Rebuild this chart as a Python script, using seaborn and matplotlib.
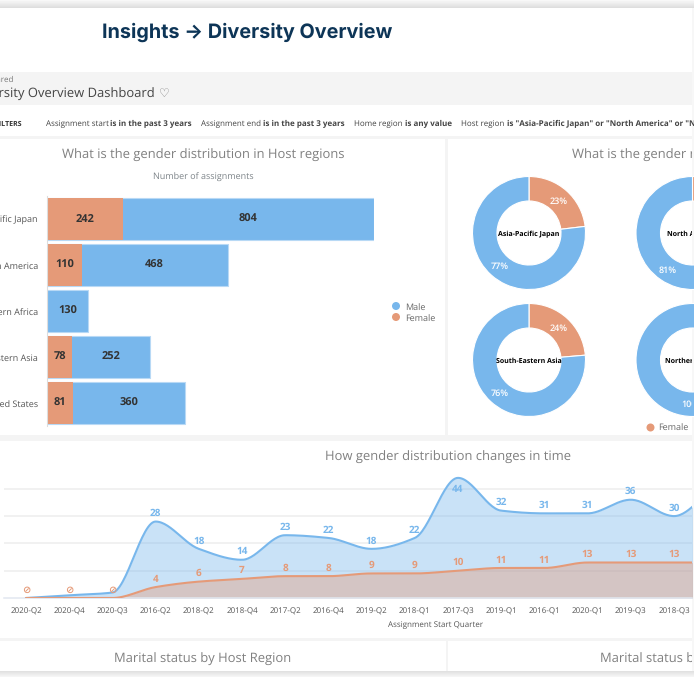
import numpy as np
import pandas as pd
import seaborn as sns
import matplotlib.pyplot as plt
from matplotlib.patches import Rectangle

# bar chart data
regions = ["Asia-Pacific Japan", "North America", "Northern Africa", "South-Eastern Asia", "United States"]
female_counts = [242, 110, 0, 78, 81]
male_counts = [804, 468, 130, 252, 360]

# donut order in the picture
donut_regions = ["Asia-Pacific Japan", "North America", "South-Eastern Asia", "Northern Africa"]

# line chart data, last value is the point past the cropped edge
quarters = ["2020-Q2", "2020-Q4", "2020-Q3", "2016-Q2", "2018-Q2", "2018-Q4", "2017-Q2", "2016-Q4",
            "2019-Q2", "2018-Q1", "2017-Q3", "2019-Q1", "2016-Q1", "2020-Q1", "2019-Q3", "2018-Q3", ""]
male_line = [0, 1, 2, 28, 18, 14, 23, 22, 18, 22, 44, 32, 31, 31, 36, 30, 42]
female_line = [0, 0, 0, 4, 6, 7, 8, 8, 9, 9, 10, 11, 11, 13, 13, 13, 13]

BLUE = "#78b7ec"
ORANGE = "#e59a78"
W, H = 694, 677
PX = 0.72  # px to pt at dpi 100

sns.set_theme(style="white")
plt.rcParams["font.family"] = ["Open Sans", "DejaVu Sans"]
plt.rcParams["text.hinting"] = "no_hinting"
plt.rcParams["text.hinting_factor"] = 1

fig = plt.figure(figsize=(W / 100, H / 100), dpi=100, facecolor="#f7f7f7")


def px_axes(x0, y0, x1, y1, **kw):
    return fig.add_axes([x0 / W, 1 - y1 / H, (x1 - x0) / W, (y1 - y0) / H], **kw)


def smooth(x, y, n=30):
    # monotone cubic through the points, only for the curved look of the line
    x, y = np.asarray(x, float), np.asarray(y, float)
    d = np.diff(y) / np.diff(x)
    m = np.zeros_like(y)
    for i in range(1, len(y) - 1):
        if d[i - 1] * d[i] > 0:
            m[i] = 2 * d[i - 1] * d[i] / (d[i - 1] + d[i])
    m[0], m[-1] = d[0], d[-1]
    xs, ys = [], []
    for i in range(len(x) - 1):
        t = np.linspace(0, 1, n)
        h = x[i + 1] - x[i]
        ys.append((2*t**3 - 3*t**2 + 1) * y[i] + (t**3 - 2*t**2 + t) * h * m[i]
                  + (-2*t**3 + 3*t**2) * y[i + 1] + (t**3 - t**2) * h * m[i + 1])
        xs.append(x[i] + t * h)
    return np.concatenate(xs), np.concatenate(ys)


# page background and cards
bg = px_axes(0, 0, W, H)
bg.set_xlim(0, W)
bg.set_ylim(H, 0)
bg.axis("off")
bg.imshow(np.linspace(0.97, 0.87, 8)[:, None], extent=(0, W, 8, 0), cmap="gray", vmin=0, vmax=1, aspect="auto")
bg.imshow(np.linspace(0.88, 0.96, 6)[:, None], extent=(0, W, 677, 671), cmap="gray", vmin=0, vmax=1, aspect="auto")
bg.set_xlim(0, W)
bg.set_ylim(H, 0)
for x, y, w, h, c in [(0, 8, 692, 663, "#f4f4f4"), (0, 8, 692, 64, "white"), (0, 105, 692, 31, "white"),
                      (0, 139, 445, 296, "white"), (448, 139, 244, 296, "white"), (0, 441, 692, 197, "white"),
                      (0, 641, 446, 30, "white"), (448, 641, 244, 30, "white")]:
    bg.add_patch(Rectangle((x, y), w, h, color=c, lw=0))

# header texts
bg.text(102, 32.5, "Insights → Diversity Overview", fontsize=19.8 * PX, fontweight="bold", color="#0d3557",
        family=["Inter", "DejaVu Sans"], va="center")
bg.text(14, 80, "Shared", fontsize=8 * PX, color="#777777", ha="right", va="center")
bg.text(155, 94.5, "Diversity Overview Dashboard", fontsize=12.7 * PX, color="#444444", ha="right", va="center")
bg.text(159, 93.5, "♡", fontsize=12 * PX, color="#777777", va="center", family=["DejaVu Sans"])
bg.text(22, 124, "FILTERS", fontsize=7.5 * PX, fontweight="bold", color="#333333", ha="right", va="center")
filter_bits = [(46, "Assignment start", "normal"), (110.5, "is in the past 3 years", "bold"),
               (201, "Assignment end", "normal"), (263, "is in the past 3 years", "bold"),
               (354, "Home region", "normal"), (405, "is any value", "bold"), (461, "Host region", "normal"),
               (507, 'is "Asia-Pacific Japan" or "North America" or "Northern', "bold")]
for x, s, weight in filter_bits:
    t = bg.text(x, 124, s, fontsize=7.7 * PX, fontweight=weight, color="#444444", va="center")
    t.set_clip_path(Rectangle((0, 0), 692, H, transform=bg.transData))

# titles
title_kw = dict(fontsize=12.9 * PX, color="#808080", va="center")
bg.text(203, 156, "What is the gender distribution in Host regions", ha="center", **title_kw)
bg.text(203, 177.5, "Number of assignments", fontsize=8.7 * PX, color="#7d8489", ha="center", va="center")
bg.text(448, 458, "How gender distribution changes in time", ha="center", **title_kw)
bg.text(203, 659, "Marital status by Host Region", ha="center", **title_kw)

# legends
bg.scatter([396, 396], [306, 317], s=64 * PX**2, color=[BLUE, ORANGE], lw=0)
bg.text(405, 307.5, "Male", fontsize=8.6 * PX, color="#666666", va="center")
bg.text(405, 318.5, "Female", fontsize=8.6 * PX, color="#666666", va="center")

# stacked bars: totals in blue, female drawn over them
bar_df = pd.DataFrame({"region": regions, "female": female_counts, "male": male_counts})
bar_df["total"] = bar_df["female"] + bar_df["male"]
ax = px_axes(47.5, 196, 373.5, 426)
ax.patch.set_alpha(0)
sns.barplot(data=bar_df, y="region", x="total", color=BLUE, width=0.91, saturation=1, ax=ax,
            edgecolor="#b8d9f5", linewidth=0.8)
sns.barplot(data=bar_df, y="region", x="female", color=ORANGE, width=0.91, saturation=1, ax=ax, linewidth=0)
ax.set_xlim(0, bar_df["total"].max())
ax.set_ylim(4.5, -0.5)
ax.set_xlabel("")
ax.set_ylabel("")
ax.set_xticks([])
ax.tick_params(axis="y", length=0, pad=7, labelsize=9.2 * PX, labelcolor="#555555")
sns.despine(ax=ax, top=True, right=True, bottom=True)
ax.spines["left"].set_color("#dddddd")
ax.spines["left"].set_linewidth(0.8)
for i, (f, m) in enumerate(zip(female_counts, male_counts)):
    label_kw = dict(fontsize=11 * PX, fontweight="bold", color="#333333", ha="center", va="center")
    if f:
        ax.text(f / 2, i + 0.01, str(f), **label_kw)
    ax.text(f + m / 2, i + 0.01, str(m), **label_kw)

# donuts, right panel is cut by the card edge
dax = px_axes(448, 139, 692, 435)
dax.patch.set_alpha(0)
centers = [(529, 233), (692.5, 233), (529, 360), (692.5, 360)]
for region, (cx, cy) in zip(donut_regions, centers):
    i = regions.index(region)
    f, m = female_counts[i], male_counts[i]
    cy_up = H - cy
    dax.pie([f, m], center=(cx, cy_up), radius=56.5, startangle=90, counterclock=False, colors=[ORANGE, BLUE],
            wedgeprops=dict(width=24.5, edgecolor="white", linewidth=0.8))
    dax.text(cx, cy_up - 1, region, fontsize=7.3 * PX, fontweight="bold", color="black", ha="center", va="center",
             clip_on=True)
    done = 0.0
    for v in (f, m):
        if v:
            share = v / (f + m)
            a = 2 * np.pi * (done + share / 2)
            dax.text(cx + 44 * np.sin(a), cy_up + 44 * np.cos(a) - 1, f"{round(share * 100)}%", fontsize=8.8 * PX,
                     fontweight="semibold", color="white", ha="center", va="center", clip_on=True)
            done += share
dax.set_xlim(448, 692)
dax.set_ylim(H - 435, H - 139)
dax.set_aspect("auto")
dax.text(572, H - 156, "What is the gender ratio in Host regions", clip_on=True, ha="left", **title_kw)
dax.scatter([650], [H - 427], s=64 * PX**2, color=ORANGE, lw=0)
dax.text(658, H - 428, "Female", fontsize=8.6 * PX, color="#666666", va="center", clip_on=True)

# bottom right title
bg.text(600, 659, "Marital status by Home Region", ha="left", clip_on=True, **title_kw).set_clip_path(
    Rectangle((0, 0), 692, H, transform=bg.transData))

# smooth area lines
lax = px_axes(4, 470, 692, 598)
lax.patch.set_alpha(0)
idx = np.arange(len(quarters))
y_unit = 2.73
for v in (10, 20, 30, 40):
    lax.axhline(v, color="#eeeeee", lw=1.1, zorder=0)
for values, color in [(male_line, BLUE), (female_line, ORANGE)]:
    sx, sy = smooth(idx, values)
    lax.fill_between(sx, sy, 0, color=color, alpha=0.4, lw=0, zorder=2)
    sns.lineplot(x=sx, y=sy, color=color, lw=1.5, ax=lax, zorder=3, errorbar=None, sort=False)
lax.set_xlim((4 - 26) / 43.2, (692 - 26) / 43.2)
lax.set_ylim(0, 128 / y_unit)
lax.set_yticks([])
lax.set_xticks(idx[:-1])
lax.set_xticklabels(quarters[:-1])
lax.tick_params(axis="x", length=0, pad=7, labelsize=8.2 * PX, labelcolor="#555555")
sns.despine(ax=lax, left=True, top=True, right=True)
lax.spines["bottom"].set_color("#e1e7f0")
lax.spines["bottom"].set_linewidth(1.1)
lax.set_xlabel("Assignment Start Quarter", x=(436 - 4) / 688, fontsize=8.2 * PX, color="#555555", labelpad=3.5)

point_kw = dict(textcoords="offset points", ha="center", va="center", fontsize=10.2 * PX, fontweight="bold",
                annotation_clip=True, zorder=5)
for i in idx[:-1]:
    v = male_line[i]
    if v >= 10:
        offset = -12 if v == 44 else 8
        lax.annotate(str(v), (i, v), xytext=(0, offset * PX), color=BLUE, **point_kw)
    v = female_line[i]
    lax.annotate(str(v) if v else "⊘", (i, v), xytext=(0, 8 * PX), color=ORANGE, **point_kw)

fig.savefig("out.png", dpi=100)
